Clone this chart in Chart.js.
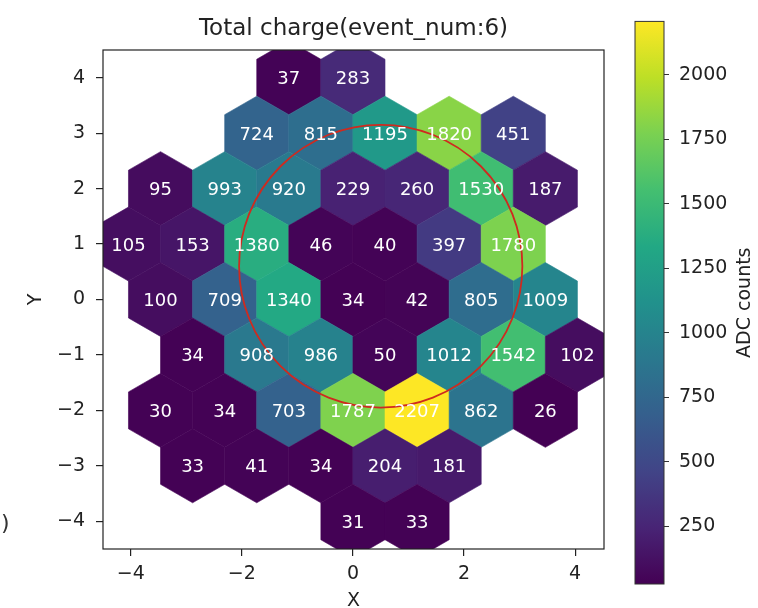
<!DOCTYPE html>
<html>
<head>
<meta charset="utf-8">
<script src="https://cdn.jsdelivr.net/npm/chart.js@4.4.0/dist/chart.umd.min.js"></script>
<style>
  body { margin: 0; background: #fff; }
  #wrap { position: relative; width: 758px; height: 608px; }
  #cbar { position: absolute; left: 600px; top: 0; }
</style>
</head>
<body>
<div id="wrap">
  <canvas id="graph" width="758" height="608"></canvas>
  <canvas id="cbar" width="158" height="608"></canvas>
</div>
<script>
// hex cells: row = y, col counted in half hex pitches (x = col * HALF_PITCH)
let cellRow = [4, 4,
  3, 3, 3, 3, 3,
  2, 2, 2, 2, 2, 2, 2,
  1, 1, 1, 1, 1, 1, 1,
  0, 0, 0, 0, 0, 0, 0,
  -1, -1, -1, -1, -1, -1, -1,
  -2, -2, -2, -2, -2, -2, -2,
  -3, -3, -3, -3, -3,
  -4, -4];
let cellCol = [-2, 0,
  -3, -1, 1, 3, 5,
  -6, -4, -2, 0, 2, 4, 6,
  -7, -5, -3, -1, 1, 3, 5,
  -6, -4, -2, 0, 2, 4, 6,
  -5, -3, -1, 1, 3, 5, 7,
  -6, -4, -2, 0, 2, 4, 6,
  -5, -3, -1, 1, 3,
  0, 2];
let charge = [37, 283,
  724, 815, 1195, 1820, 451,
  95, 993, 920, 229, 260, 1530, 187,
  105, 153, 1380, 46, 40, 397, 1780,
  100, 709, 1340, 34, 42, 805, 1009,
  34, 908, 986, 50, 1012, 1542, 102,
  30, 34, 703, 1787, 2207, 862, 26,
  33, 41, 34, 204, 181,
  31, 33];

let xTickValues = [-4, -2, 0, 2, 4];
let yTickValues = [-4, -3, -2, -1, 0, 1, 2, 3, 4];
let cbTickValues = [250, 500, 750, 1000, 1250, 1500, 1750, 2000];

let ringCenter = [0.5, 0.6];
let ringRadius = 2.55;

const HEX_R = 2 / 3;
const HALF_PITCH = HEX_R * Math.sqrt(3) / 2;
const cMin = Math.min(...charge);
const cMax = Math.max(...charge);

const viridisStops = ["#440154", "#482475", "#414487", "#355f8d", "#2a788e", "#21918c",
  "#22a884", "#44bf70", "#7ad151", "#bddf26", "#fde725"];

const hexToRgb = (h) => [1, 3, 5].map((i) => parseInt(h.substr(i, 2), 16));
const viridis = (t) => {
  t = Math.max(0, Math.min(1, t));
  const n = viridisStops.length - 1;
  const i = Math.min(n - 1, Math.floor(t * n));
  const f = t * n - i;
  const a = hexToRgb(viridisStops[i]);
  const b = hexToRgb(viridisStops[i + 1]);
  const c = a.map((v, k) => Math.round(v + (b[k] - v) * f));
  return `rgb(${c[0]}, ${c[1]}, ${c[2]})`;
};

const minus = (v) => String(v).replace("-", "\u2212");

Chart.defaults.font.family = "'DejaVu Sans', sans-serif";
Chart.defaults.color = "#222";

const hexPlugin = {
  id: "hexCells",
  beforeDatasetsDraw(chart) {
    const { ctx, chartArea: a, scales: { x, y } } = chart;
    const pts = chart.data.datasets[0].data;
    ctx.save();
    ctx.beginPath();
    ctx.rect(a.left, a.top, a.right - a.left, a.bottom - a.top);
    ctx.clip();
    pts.forEach((d) => {
      ctx.beginPath();
      for (let k = 0; k < 6; k++) {
        const t = Math.PI / 6 + (k * Math.PI) / 3;
        const px = x.getPixelForValue(d.x + HEX_R * Math.cos(t));
        const py = y.getPixelForValue(d.y + HEX_R * Math.sin(t));
        if (k) ctx.lineTo(px, py);
        else ctx.moveTo(px, py);
      }
      ctx.closePath();
      const col = viridis((d.v - cMin) / (cMax - cMin));
      ctx.fillStyle = col;
      ctx.strokeStyle = col;
      ctx.lineWidth = 0.6;
      ctx.fill();
      ctx.stroke();
    });
    // ring
    const cx = x.getPixelForValue(ringCenter[0]);
    const cy = y.getPixelForValue(ringCenter[1]);
    const rx = Math.abs(x.getPixelForValue(ringCenter[0] + ringRadius) - cx);
    const ry = Math.abs(y.getPixelForValue(ringCenter[1] + ringRadius) - cy);
    ctx.beginPath();
    ctx.ellipse(cx, cy, rx, ry, 0, 0, Math.PI * 2);
    ctx.strokeStyle = "#cf2a1f";
    ctx.lineWidth = 1.8;
    ctx.stroke();
    ctx.restore();
  },
  afterDatasetsDraw(chart) {
    const { ctx } = chart;
    const meta = chart.getDatasetMeta(0);
    ctx.save();
    ctx.font = "18px 'DejaVu Sans'";
    ctx.fillStyle = "#ffffff";
    ctx.textAlign = "center";
    ctx.textBaseline = "alphabetic";
    meta.data.forEach((p, i) => {
      ctx.fillText(String(charge[i]), p.x, p.y + 18 * 0.364);
    });
    ctx.restore();
  },
  afterDraw(chart) {
    const { ctx, chartArea: a } = chart;
    ctx.save();
    ctx.strokeStyle = "#222";
    ctx.lineWidth = 1.2;
    ctx.strokeRect(a.left, a.top, a.right - a.left, a.bottom - a.top);
    ctx.font = "22px 'DejaVu Sans'";
    ctx.fillStyle = "#333";
    ctx.textAlign = "left";
    ctx.textBaseline = "middle";
    ctx.fillText(")", 1, 524);
    ctx.restore();
  },
};

const chartInit = () => {
  return new Chart(document.getElementById("graph"), {
    type: "scatter",
    data: {
      datasets: [
        {
          data: charge.map((v, i) => ({ x: cellCol[i] * HALF_PITCH, y: cellRow[i], v: v })),
          pointRadius: 0,
          pointHoverRadius: 0,
        },
      ],
    },
    options: {
      responsive: false,
      animation: false,
      events: [],
      layout: { padding: { left: 0, right: 154, top: 0, bottom: 0 } },
      plugins: {
        legend: { display: false },
        tooltip: { enabled: false },
        title: {
          display: true,
          text: "Total charge(event_num:6)",
          fullSize: false,
          color: "#222",
          font: { size: 23, weight: "normal" },
          padding: { top: 15, bottom: 7.4 },
        },
      },
      scales: {
        x: {
          type: "linear",
          min: -4.5,
          max: 4.52,
          afterBuildTicks: (s) => { s.ticks = xTickValues.map((v) => ({ value: v })); },
          afterFit: (s) => { s.height = 59; },
          grid: { drawOnChartArea: false, drawTicks: true, tickLength: 7, color: "#222", lineWidth: 1.2 },
          border: { display: false },
          ticks: { padding: 7, font: { size: 19 }, color: "#222", callback: minus, maxRotation: 0 },
          title: { display: true, text: "X", font: { size: 19, lineHeight: 0.7 }, padding: 0, color: "#222" },
        },
        y: {
          type: "linear",
          min: -4.5,
          max: 4.5,
          afterBuildTicks: (s) => { s.ticks = yTickValues.map((v) => ({ value: v })); },
          afterFit: (s) => { s.width = 103; },
          grid: { drawOnChartArea: false, drawTicks: true, tickLength: 7, color: "#222", lineWidth: 1.2 },
          border: { display: false },
          ticks: { padding: 11, font: { size: 19 }, color: "#222", callback: minus },
          title: { display: true, text: "Y", font: { size: 19 }, padding: { top: 25, bottom: 0 }, color: "#222" },
        },
      },
    },
    plugins: [hexPlugin],
  });
};

const cbarPlugin = {
  id: "cbarFrame",
  afterDraw(chart) {
    const { ctx, chartArea: a } = chart;
    ctx.save();
    ctx.strokeStyle = "#333";
    ctx.lineWidth = 1;
    ctx.strokeRect(a.left, a.top, a.right - a.left, a.bottom - a.top);
    ctx.translate(145, (a.top + a.bottom) / 2);
    ctx.rotate(-Math.PI / 2);
    ctx.font = "19px 'DejaVu Sans'";
    ctx.fillStyle = "#222";
    ctx.textAlign = "center";
    ctx.textBaseline = "middle";
    ctx.fillText("ADC counts", 0, 0);
    ctx.restore();
  },
};

const colorbarInit = () => {
  return new Chart(document.getElementById("cbar"), {
    type: "bar",
    data: {
      labels: [""],
      datasets: [
        {
          data: [[cMin, cMax]],
          borderWidth: 0,
          categoryPercentage: 1,
          barPercentage: 1,
          backgroundColor: (c) => {
            const { chartArea, scales, ctx } = c.chart;
            if (!chartArea) return viridisStops[0];
            const g = ctx.createLinearGradient(0, scales.y.getPixelForValue(cMin), 0, scales.y.getPixelForValue(cMax));
            viridisStops.forEach((s, i) => g.addColorStop(i / (viridisStops.length - 1), s));
            return g;
          },
        },
      ],
    },
    options: {
      responsive: false,
      animation: false,
      events: [],
      layout: { padding: { left: 35, right: 0, top: 14, bottom: 24 } },
      plugins: { legend: { display: false }, tooltip: { enabled: false } },
      scales: {
        x: { display: false },
        y: {
          position: "right",
          min: cMin,
          max: cMax,
          afterBuildTicks: (s) => { s.ticks = cbTickValues.map((v) => ({ value: v })); },
          afterFit: (s) => { s.width = 94; },
          grid: { drawOnChartArea: false, drawTicks: true, tickLength: 5, color: "#333", lineWidth: 1 },
          border: { display: false },
          ticks: { padding: 10, font: { size: 19 }, color: "#222", callback: (v) => String(v) },
        },
      },
    },
    plugins: [cbarPlugin],
  });
};

let hexChart = chartInit();
let colorbarChart = colorbarInit();
</script>
</body>
</html>
